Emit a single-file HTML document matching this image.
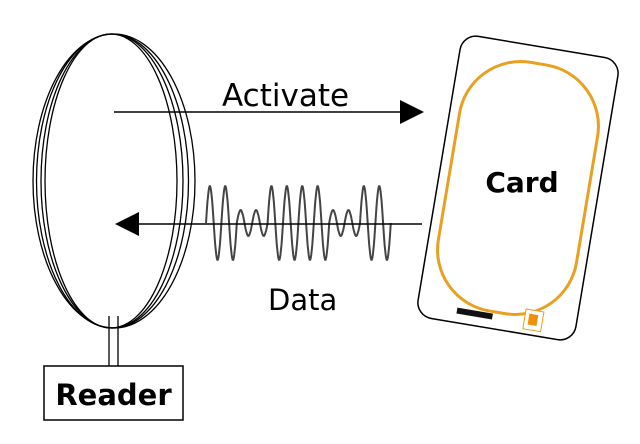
<!DOCTYPE html>
<html><head><meta charset="utf-8"><style>
html,body{margin:0;padding:0;background:#fff;width:640px;height:444px;overflow:hidden}
svg{display:block}
text{font-family:"DejaVu Sans","Liberation Sans",sans-serif}
</style></head><body>
<svg width="640" height="444" viewBox="0 0 640 444" xmlns="http://www.w3.org/2000/svg">
<g fill="none" stroke="#000" stroke-width="1.3">
<ellipse cx="114" cy="181" rx="81" ry="147"/>
<ellipse cx="112.5" cy="181" rx="76" ry="147"/>
<ellipse cx="112" cy="181" rx="71" ry="147"/>
<ellipse cx="111" cy="181" rx="66" ry="147"/>
<line x1="109" y1="316" x2="109" y2="366"/>
<line x1="118" y1="316" x2="118" y2="366"/>
</g>
<rect x="44" y="366" width="139" height="54" fill="#fff" stroke="#000" stroke-width="1.5"/>
<text x="113.5" y="405" text-anchor="middle" font-size="29" font-weight="bold">Reader</text>
<line x1="114" y1="112" x2="402" y2="112" stroke="#000" stroke-width="1.5"/>
<polygon points="400,100 424,112 400,124" fill="#000"/>
<text x="222" y="106" font-size="31">Activate</text>
<path id="wave" fill="none" stroke="#444" stroke-width="2"/>
<line x1="136" y1="224" x2="422" y2="224" stroke="#000" stroke-width="1.5"/>
<polygon points="115,224 139,212 139,236" fill="#000"/>
<text x="268" y="310" font-size="29">Data</text>
<g transform="translate(518,188) rotate(9.5)">
<rect x="-80" y="-143" width="160" height="286" rx="16" fill="#fff" stroke="#000" stroke-width="1.5"/>
<rect x="-70" y="-126" width="140" height="252" rx="62" fill="none" stroke="#e8a020" stroke-width="3"/>
<rect x="-40" y="128" width="36" height="6" fill="#111"/>
<rect x="28" y="118" width="18" height="20" fill="#fff" stroke="#e8a020" stroke-width="1"/>
<rect x="32" y="122" width="9" height="11" fill="#f0900a"/>
</g>
<text x="522" y="192" text-anchor="middle" font-size="28" font-weight="bold">Card</text>
</svg>
<script>
(function(){
var amps=[1,1,0.35,0.35,1,1,1,1,0.35,0.35,1,1];
var x0=206,per=15.4,cy=223,A=37,d="";
for(var i=0;i<amps.length;i++){for(var k=0;k<=30;k++){var t=k/30;var x=x0+(i+t)*per;var y=cy-A*amps[i]*Math.sin(2*Math.PI*t);d+=(d?"L":"M")+x.toFixed(1)+","+y.toFixed(1);}}
document.getElementById("wave").setAttribute("d",d);
})();
</script>
</body></html>
